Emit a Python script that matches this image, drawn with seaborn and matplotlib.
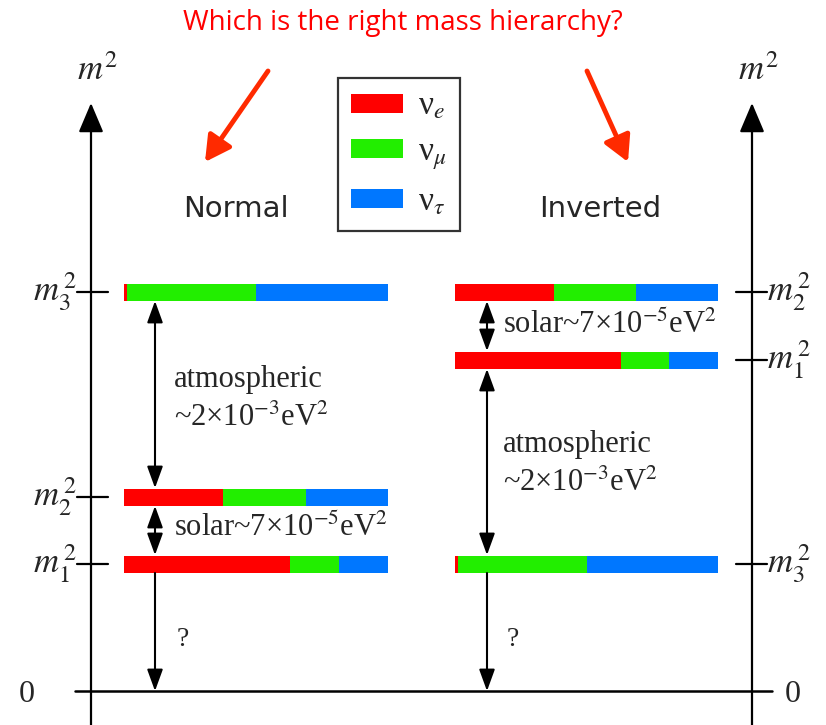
import matplotlib
matplotlib.use("Agg")
import matplotlib.pyplot as plt
import seaborn as sns
from matplotlib.patches import Patch

sns.set_theme(style="white")
plt.rcParams['font.family'] = ['Liberation Serif', 'DejaVu Serif']
plt.rcParams['mathtext.fontset'] = 'stix'

# ---- data ----
flavors = [r"ν$_e$", r"ν$_\mu$", r"ν$_\tau$"]
flavor_colors = ["#ff0000", "#22ee00", "#0077ff"]
states = ["m1", "m2", "m3"]
# flavor content (e, mu, tau) of each mass state
content_m1 = [0.63, 0.185, 0.185]
content_m2 = [0.375, 0.315, 0.31]
content_m3 = [0.01, 0.49, 0.50]
# level heights (diagram units above zero)
normal_levels = [127, 194, 399]     # m1, m2, m3
inverted_levels = [331, 399, 127]   # m1, m2, m3
normal_labels = [r"$m_1^{\,2}$", r"$m_2^{\,2}$", r"$m_3^{\,2}$"]
inverted_labels = [r"$m_1^{\,2}$", r"$m_2^{\,2}$", r"$m_3^{\,2}$"]
atm_text = "atmospheric\n~2×10$^{-3}$eV$^2$"
sol_text = "solar~7×10$^{-5}$eV$^2$"
title = "Which is the right mass hierarchy?"

contents = [content_m1, content_m2, content_m3]

fig = plt.figure(figsize=(8.26, 7.25), dpi=100)
ax = fig.add_axes([0, 0, 1, 1])
ax.set_xlim(0, 826)
ax.set_ylim(691 - 725, 691)
ax.axis("off")

def draw_bars(x0, W, levels):
    for lvl, frac in zip(levels, contents):
        left = x0
        for f, c in zip(frac, flavor_colors):
            ax.barh(lvl, f * W, left=left, height=17, color=c, edgecolor="none")
            left += f * W

draw_bars(124, 264, normal_levels)
draw_bars(455, 263, inverted_levels)

axis_kw = dict(arrowstyle="-|>,head_length=1.3,head_width=0.55", color="black", lw=1.6,
               mutation_scale=14, shrinkA=0, shrinkB=0)
# vertical axes
for xa in (91, 752):
    ax.annotate("", xy=(xa, 588), xytext=(xa, -40), arrowprops=axis_kw)
    ax.text(xa + 6, 620, "$m^2$", fontsize=25, ha="center", va="center")
# zero line
ax.plot([75, 772], [0, 0], color="black", lw=1.8)
ax.text(27, -4, "0", fontsize=23, ha="center", va="center")
ax.text(793, -4, "0", fontsize=23, ha="center", va="center")

# ticks & labels
for lvl, lab in zip(normal_levels, normal_labels):
    ax.plot([77, 108], [lvl, lvl], color="black", lw=1.6)
    ax.text(77, lvl, lab, fontsize=25, ha="right", va="center")
for lvl, lab in zip(inverted_levels, inverted_labels):
    ax.plot([736, 767], [lvl, lvl], color="black", lw=1.6)
    ax.text(767, lvl, lab, fontsize=25, ha="left", va="center")

# double arrows
dbl = dict(arrowstyle="<|-|>,head_length=1.1,head_width=0.4", color="black", lw=1.5,
           mutation_scale=12, shrinkA=0, shrinkB=0)
single = dict(arrowstyle="-|>,head_length=1.1,head_width=0.4", color="black", lw=1.5,
              mutation_scale=12, shrinkA=0, shrinkB=0)

def gaps(x, levels):
    lv = sorted(levels)
    ax.annotate("", xy=(x, 0), xytext=(x, lv[0] - 9), arrowprops=single)
    ax.annotate("", xy=(x, lv[0] + 9), xytext=(x, lv[1] - 9), arrowprops=dbl)
    ax.annotate("", xy=(x, lv[1] + 9), xytext=(x, lv[2] - 9), arrowprops=dbl)

gaps(155, normal_levels)
gaps(487, inverted_levels)

ax.text(174, 292, atm_text, fontsize=22, ha="left", va="center", linespacing=1.4)
ax.text(174, 163, sol_text, fontsize=22, ha="left", va="center")
ax.text(503, 227, atm_text, fontsize=22, ha="left", va="center", linespacing=1.4)
ax.text(503, 366, sol_text, fontsize=22, ha="left", va="center")
ax.text(183, 51, "?", fontsize=20, ha="center", va="center")
ax.text(513, 51, "?", fontsize=20, ha="center", va="center")

# headings
ax.text(236, 482, "Normal", fontsize=21, ha="center", va="center", family=["DejaVu Sans"])
ax.text(600, 482, "Inverted", fontsize=21, ha="center", va="center", family=["DejaVu Sans"])

# title
ax.text(403, 668, title, fontsize=20, color="#ff0000", ha="center", va="center",
        family=["Open Sans", "DejaVu Sans"])

red_kw = dict(arrowstyle="-|>,head_length=1.1,head_width=0.6", color="#ff2a00", lw=3.5,
              mutation_scale=14, shrinkA=0, shrinkB=0)
ax.annotate("", xy=(205, 529), xytext=(268, 620), arrowprops=red_kw)
ax.annotate("", xy=(628, 529), xytext=(587, 620), arrowprops=red_kw)

# legend
handles = [Patch(facecolor=c, edgecolor="none") for c in flavor_colors]
leg = ax.legend(handles, flavors, loc="upper left",
                bbox_to_anchor=(338 / 826, 1 - 78 / 725), frameon=True,
                fancybox=False, fontsize=24, handlelength=1.55, handleheight=0.5,
                labelspacing=0.45, borderpad=0.4, handletextpad=0.45,
                borderaxespad=0)
leg.get_frame().set_edgecolor("black")
leg.get_frame().set_linewidth(1.6)

fig.savefig("out.png", dpi=100, facecolor="white")
